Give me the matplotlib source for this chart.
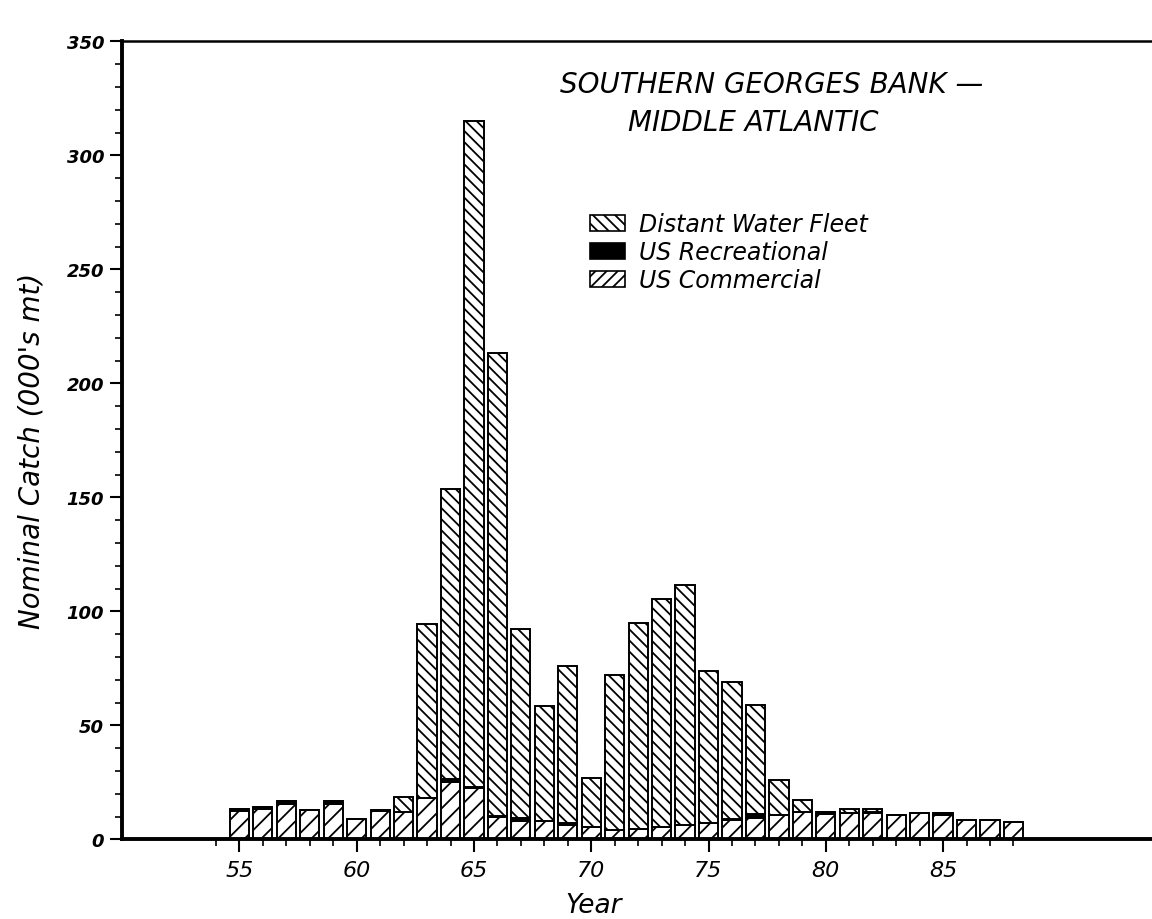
import matplotlib
matplotlib.use("Agg")
import matplotlib.pyplot as plt
import numpy as np
from matplotlib.patches import Patch
from matplotlib.ticker import MultipleLocator, FixedLocator

# Nominal catch (000's mt)
years = np.arange(55, 89)
us_commercial = [12.5, 13.5, 15.5, 12.9, 15.4, 8.9, 12.4, 12.2, 18.3, 25.0,
                 22.5, 10.0, 8.2, 8.1, 6.4, 5.6, 4.2, 4.5, 5.4, 6.4,
                 7.4, 8.6, 9.4, 10.6, 12.2, 11.2, 11.6, 11.4, 10.6, 11.6,
                 10.6, 8.3, 8.6, 7.6]
us_recreational = [0.8, 0.6, 1.2, 0.0, 1.5, 0.0, 0.3, 0.0, 0.0, 1.3,
                   0.4, 0.3, 1.0, 0.0, 0.8, 0.0, 0.0, 0.0, 0.0, 0.0,
                   0.0, 0.3, 1.6, 0.0, 0.0, 0.8, 0.0, 0.5, 0.0, 0.0,
                   0.8, 0.0, 0.0, 0.0]
distant_water = [0.0, 0.0, 0.0, 0.0, 0.0, 0.0, 0.0, 6.3, 76.0, 127.5,
                 292.0, 203.0, 83.0, 50.5, 69.0, 21.2, 68.0, 90.5, 100.0, 105.0,
                 66.5, 60.0, 48.0, 15.3, 4.9, 0.0, 1.9, 1.3, 0.0, 0.0,
                 0.0, 0.0, 0.0, 0.0]

legend_labels = ["Distant Water Fleet", "US Recreational", "US Commercial"]

plt.rcParams["hatch.linewidth"] = 1.3
plt.rcParams["font.family"] = ["DejaVu Sans"]

fig = plt.figure(figsize=(11.52, 9.2), dpi=100)
ax = fig.add_axes([0.106, 0.0865, 0.9, 0.8675])

comm = np.array(us_commercial)
rec = np.array(us_recreational)
dwf = np.array(distant_water)

bar_kw = dict(width=0.82, edgecolor="black", linewidth=1.4)
ax.bar(years, comm, color="white", hatch="//", **bar_kw)
ax.bar(years, rec, bottom=comm, color="black", **bar_kw)
ax.bar(years, dwf, bottom=comm + rec, color="white", hatch="\\\\\\", **bar_kw)

ax.set_xlim(50, 94.2)
ax.set_ylim(0, 350)

# Spines: left, bottom and top drawn, right falls off the page
ax.spines["right"].set_visible(False)
ax.spines["left"].set_linewidth(2.8)
ax.spines["bottom"].set_linewidth(2.8)
ax.spines["top"].set_linewidth(1.8)

ax.xaxis.set_major_locator(FixedLocator([55, 60, 65, 70, 75, 80, 85]))
ax.xaxis.set_minor_locator(FixedLocator([y for y in range(54, 89) if y % 5 != 0]))
ax.yaxis.set_major_locator(MultipleLocator(50))
ax.yaxis.set_minor_locator(MultipleLocator(10))
ax.tick_params(which="major", direction="out", length=9, width=1.5, top=False, right=False)
ax.tick_params(which="minor", direction="out", length=5, width=1.2, top=False, right=False)
ax.tick_params(axis="y", labelsize=13, pad=4)
ax.tick_params(axis="x", labelsize=16, pad=6)
for lab in ax.get_xticklabels() + ax.get_yticklabels():
    lab.set_fontstyle("italic")
for lab in ax.get_yticklabels():
    lab.set_fontweight("bold")

ax.set_xlabel("Year", fontsize=19, fontstyle="italic")
ax.xaxis.set_label_coords(0.455, -0.066)
fig.text(0.027, 0.51, "Nominal Catch (000's mt)", rotation=90, ha="center", va="center",
         fontsize=20, fontstyle="italic")

# Title block inside the plot area
fig.text(0.486, 1 - 85 / 920, "SOUTHERN GEORGES BANK \u2014", ha="left", va="center",
         fontsize=20, fontstyle="italic")
fig.text(0.545, 1 - 123 / 920, "MIDDLE ATLANTIC", ha="left", va="center",
         fontsize=20, fontstyle="italic")

handles = [
    Patch(facecolor="white", edgecolor="black", hatch="\\\\\\", linewidth=1.2),
    Patch(facecolor="black", edgecolor="black", linewidth=1.2),
    Patch(facecolor="white", edgecolor="black", hatch="///", linewidth=1.2),
]
fig.legend(handles, legend_labels, loc="upper left", bbox_to_anchor=(0.512, 1 - 213 / 920),
           frameon=False, prop={"size": 17, "style": "italic"}, handlelength=1.5,
           handleheight=0.65, labelspacing=0.17, handletextpad=0.6, borderaxespad=0,
           borderpad=0)

fig.savefig("out.png", dpi=100)
